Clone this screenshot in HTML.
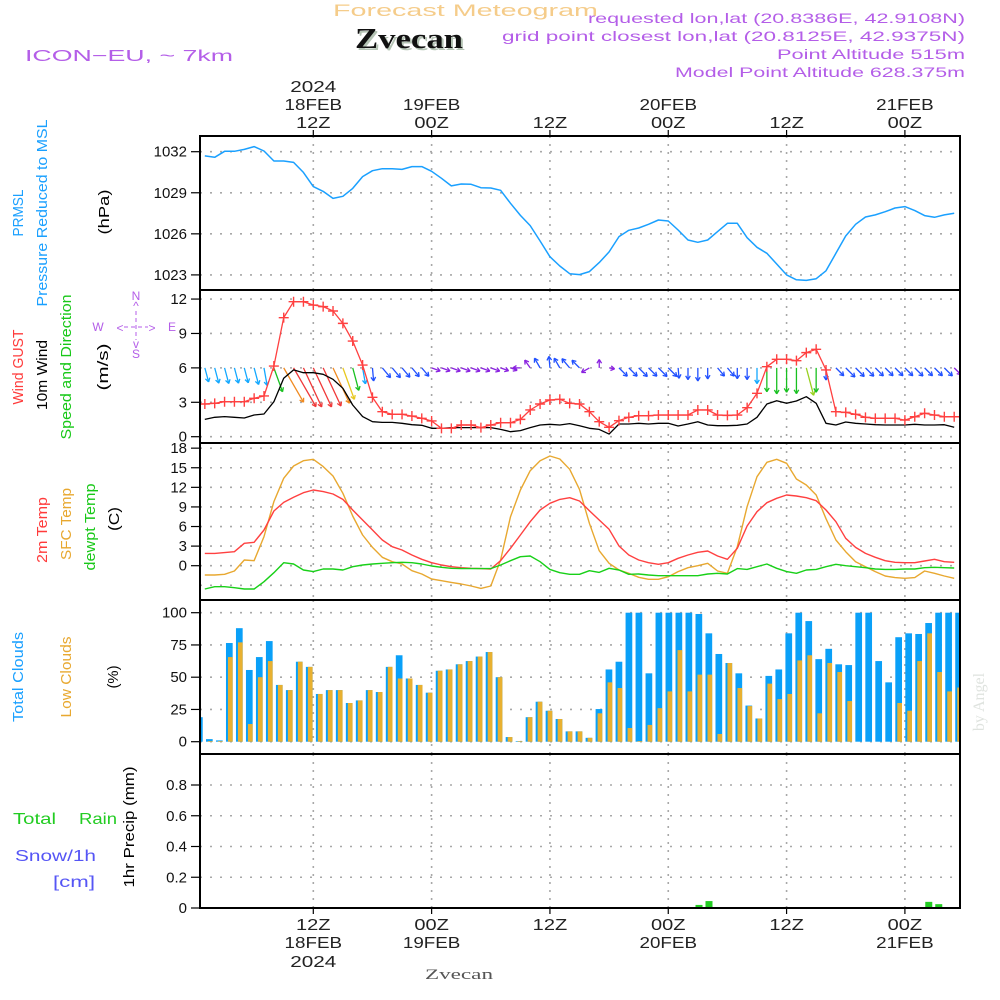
<!DOCTYPE html>
<html><head><meta charset="utf-8"><style>
html,body{margin:0;padding:0;background:#fff;}
svg{display:block;font-family:"Liberation Sans",sans-serif;}
</style></head><body>
<svg id="chart" width="1000" height="1000" viewBox="0 0 1000 1000" xmlns="http://www.w3.org/2000/svg">
<rect x="0" y="0" width="1000" height="1000" fill="#fff"/>
<defs>
<clipPath id="cP"><rect x="200" y="136" width="760" height="154"/></clipPath>
<clipPath id="cW"><rect x="200" y="290" width="760" height="153"/></clipPath>
<clipPath id="cT"><rect x="200" y="443" width="760" height="157"/></clipPath>
<clipPath id="cC"><rect x="200" y="600" width="760" height="154"/></clipPath>
<clipPath id="cR"><rect x="200" y="754" width="760" height="154"/></clipPath>
</defs>
<text x="333" y="16" fill="#f5cc8a" font-size="17" textLength="265" lengthAdjust="spacingAndGlyphs">Forecast Meteogram</text>
<text x="357" y="50" fill="#b5c4b5" font-family="'Liberation Serif',serif" font-weight="bold" font-size="28" textLength="108" lengthAdjust="spacingAndGlyphs">Zvecan</text>
<text x="355" y="48" fill="#111" font-family="'Liberation Serif',serif" font-weight="bold" font-size="28" textLength="108" lengthAdjust="spacingAndGlyphs">Zvecan</text>
<text x="25" y="61" fill="#b45ee8" font-size="16" textLength="208" lengthAdjust="spacingAndGlyphs">ICON−EU, ~ 7km</text>
<g fill="#b45ee8" font-size="14" text-anchor="end">
<text x="965" y="23" textLength="377" lengthAdjust="spacingAndGlyphs">requested lon,lat (20.8386E, 42.9108N)</text>
<text x="965" y="41" textLength="463" lengthAdjust="spacingAndGlyphs">grid point closest lon,lat (20.8125E, 42.9375N)</text>
<text x="965" y="59" textLength="188" lengthAdjust="spacingAndGlyphs">Point Altitude 515m</text>
<text x="965" y="77" textLength="290" lengthAdjust="spacingAndGlyphs">Model Point Altitude 628.375m</text>
</g>
<g font-size="15" text-anchor="middle">
<text transform="translate(23,213) rotate(-90)" fill="#1aa0ff" textLength="47" lengthAdjust="spacingAndGlyphs">PRMSL</text>
<text transform="translate(47,213) rotate(-90)" fill="#1aa0ff" textLength="187" lengthAdjust="spacingAndGlyphs">Pressure Reduced to MSL</text>
<text transform="translate(109,212) rotate(-90)" fill="#000" textLength="45" lengthAdjust="spacingAndGlyphs">(hPa)</text>
<text transform="translate(23,367) rotate(-90)" fill="#ff3b3b" textLength="75" lengthAdjust="spacingAndGlyphs">Wind GUST</text>
<text transform="translate(47,375) rotate(-90)" fill="#000" textLength="70" lengthAdjust="spacingAndGlyphs">10m Wind</text>
<text transform="translate(71,367) rotate(-90)" fill="#18c818" textLength="145" lengthAdjust="spacingAndGlyphs">Speed and Direction</text>
<text transform="translate(108,367) rotate(-90)" fill="#000" textLength="47" lengthAdjust="spacingAndGlyphs">(m/s)</text>
<text transform="translate(47,530) rotate(-90)" fill="#ff3b3b" textLength="66" lengthAdjust="spacingAndGlyphs">2m Temp</text>
<text transform="translate(71,524) rotate(-90)" fill="#e8a830" textLength="72" lengthAdjust="spacingAndGlyphs">SFC Temp</text>
<text transform="translate(95,527) rotate(-90)" fill="#18c818" textLength="87" lengthAdjust="spacingAndGlyphs">dewpt Temp</text>
<text transform="translate(119,519) rotate(-90)" fill="#000" textLength="24" lengthAdjust="spacingAndGlyphs">(C)</text>
<text transform="translate(23,677) rotate(-90)" fill="#1aa0ff" textLength="90" lengthAdjust="spacingAndGlyphs">Total Clouds</text>
<text transform="translate(71,677) rotate(-90)" fill="#e8a830" textLength="81" lengthAdjust="spacingAndGlyphs">Low Clouds</text>
<text transform="translate(118,677) rotate(-90)" fill="#000" textLength="23" lengthAdjust="spacingAndGlyphs">(%)</text>
<text transform="translate(134,827) rotate(-90)" fill="#000" textLength="121" lengthAdjust="spacingAndGlyphs">1hr Precip (mm)</text>
</g>
<g font-size="16">
<text x="13" y="824" fill="#22cc22" textLength="43" lengthAdjust="spacingAndGlyphs">Total</text>
<text x="79" y="824" fill="#22cc22" textLength="38" lengthAdjust="spacingAndGlyphs">Rain</text>
<text x="15" y="861" fill="#5555f5" textLength="81" lengthAdjust="spacingAndGlyphs">Snow/1h</text>
<text x="53" y="887" fill="#5555f5" textLength="42" lengthAdjust="spacingAndGlyphs">[cm]</text>
</g>
<g fill="#b45ee8" stroke="none" font-size="12" text-anchor="middle">
<text x="136" y="300">N</text>
<text x="136" y="310">^</text>
<text x="98" y="331">W</text>
<text x="120" y="332">&lt;</text>
<text x="152" y="332">&gt;</text>
<text x="172" y="331">E</text>
<text x="136" y="348">v</text>
<text x="136" y="358">S</text>
<line x1="136" y1="311" x2="136" y2="340" stroke="#b45ee8" stroke-dasharray="4 3"/>
<line x1="124" y1="327" x2="148" y2="327" stroke="#b45ee8" stroke-dasharray="4 3"/>
</g>
<text transform="translate(984,702) rotate(-90)" fill="#dfe3df" font-family="'Liberation Serif',serif" font-size="16" text-anchor="middle">by Angel</text>
<text x="425" y="979" fill="#555" font-family="'Liberation Serif',serif" font-size="15" textLength="68" lengthAdjust="spacingAndGlyphs">Zvecan</text>
<g id="grid"></g>
<g id="marks"></g>
<g id="frames"></g>
<g id="labels" font-size="15" fill="#111"></g>
</svg>
<script>
const pressure = [1031.69,1031.59,1032.03,1032.03,1032.17,1032.37,1032.05,1031.32,1031.32,1031.22,1030.49,1029.45,1029.1,1028.59,1028.74,1029.32,1030.18,1030.61,1030.76,1030.76,1030.71,1030.91,1030.91,1030.57,1030.06,1029.5,1029.64,1029.62,1029.37,1029.35,1029.18,1028.23,1027.35,1026.6,1025.48,1024.33,1023.65,1023.09,1023.02,1023.24,1023.9,1024.68,1025.8,1026.26,1026.43,1026.7,1027.01,1026.94,1026.28,1025.55,1025.38,1025.55,1026.16,1026.77,1026.77,1025.72,1025.02,1024.58,1023.8,1023.0,1022.64,1022.6,1022.72,1023.3,1024.58,1025.84,1026.7,1027.23,1027.38,1027.62,1027.89,1027.99,1027.7,1027.33,1027.21,1027.38,1027.5];
const gust = [2.85,2.91,3.05,3.05,3.05,3.35,3.55,6.16,10.38,11.77,11.77,11.48,11.34,10.96,9.88,8.34,6.25,3.43,2.18,1.95,1.95,1.8,1.6,1.37,0.73,0.73,1.02,1.02,0.79,1.02,1.22,1.22,1.51,2.33,2.85,3.2,3.26,2.91,2.85,2.18,1.31,0.82,1.4,1.69,1.83,1.83,1.89,1.89,1.89,1.89,2.33,2.33,1.89,1.86,1.89,2.53,3.78,6.1,6.75,6.75,6.63,7.33,7.62,5.82,2.18,2.12,1.95,1.69,1.6,1.6,1.6,1.45,1.74,2.04,1.89,1.74,1.74];
const windSpeed = [1.51,1.69,1.75,1.69,1.63,1.89,1.98,3.05,5.09,5.82,5.58,5.58,5.44,5.0,4.22,2.76,1.75,1.31,1.25,1.25,1.17,1.05,0.99,0.73,0.73,0.79,0.79,0.79,0.79,0.79,0.64,0.44,0.53,0.79,1.02,1.08,1.02,1.14,0.96,0.73,0.64,0.23,1.11,1.11,1.17,1.11,1.17,1.17,0.93,1.11,1.31,1.02,0.96,0.96,0.99,1.11,1.69,2.85,3.14,2.91,3.11,3.49,2.91,1.17,1.02,1.28,1.17,1.11,1.05,1.02,1.02,1.02,1.08,1.02,1.02,1.05,0.82];
const windDir = [345,345,345,345,345,345,350,340,330,330,335,335,335,335,340,345,350,355,320,320,320,320,320,290,290,290,290,290,290,290,290,290,90,145,150,175,150,140,135,60,180,280,315,315,315,315,315,315,355,0,0,0,320,320,0,0,0,0,0,0,0,345,0,0,315,315,315,315,315,315,315,315,315,315,315,315,315];
const t2m = [1.89,1.89,2.0,2.15,3.43,3.58,5.47,8.38,9.7,10.47,11.18,11.59,11.34,10.98,10.16,8.53,7.0,5.47,3.94,2.91,2.4,1.64,0.98,0.46,0.11,-0.15,-0.3,-0.4,-0.45,-0.5,0.77,2.66,4.7,6.74,8.53,9.55,10.16,10.42,9.91,8.43,7.0,5.57,3.02,1.64,0.87,0.46,0.21,0.46,1.13,1.64,2.05,2.25,1.49,0.98,2.66,6.08,8.27,9.65,10.32,10.83,10.67,10.42,9.96,8.53,6.74,4.19,2.81,1.89,1.28,0.77,0.52,0.46,0.46,0.72,0.98,0.62,0.52];
const sfcTemp = [-1.42,-1.42,-1.32,-0.81,0.87,0.77,4.45,9.81,13.38,15.27,16.08,16.29,15.17,13.74,11.08,7.61,4.7,2.81,1.28,0.62,0.26,-0.76,-1.27,-2.04,-2.29,-2.55,-2.8,-3.11,-3.47,-3.11,0.87,7.51,11.59,14.55,16.08,16.8,16.34,14.76,11.69,6.49,2.3,0.36,-0.66,-1.17,-1.78,-2.09,-2.09,-1.68,-0.91,-0.3,0.0,0.36,-0.81,-1.17,2.91,9.04,13.63,15.83,16.29,15.68,13.28,12.36,10.83,7.2,3.94,2.15,0.62,-0.15,-0.91,-1.58,-1.83,-1.93,-1.83,-0.81,-1.17,-1.58,-1.93];
const dewpt = [-3.57,-3.21,-3.21,-3.37,-3.57,-3.57,-2.45,-1.07,0.46,0.26,-0.66,-0.91,-0.5,-0.5,-0.66,-0.15,0.11,0.26,0.36,0.46,0.52,0.46,0.26,-0.05,-0.25,-0.4,-0.45,-0.45,-0.45,-0.45,0.11,0.77,1.38,1.49,0.62,-0.56,-1.07,-1.32,-1.32,-0.76,-1.02,-0.4,-0.66,-1.32,-1.27,-1.42,-1.53,-1.53,-1.53,-1.53,-1.53,-1.27,-1.17,-1.27,-0.45,-0.56,-0.15,0.26,-0.4,-0.91,-1.17,-0.66,-0.56,-0.15,0.21,0.0,-0.15,-0.3,-0.5,-0.56,-0.56,-0.5,-0.5,-0.3,-0.25,-0.3,-0.35];
const totalClouds = [19,2,1,76.5,88,55.6,65.6,78,44,40,62,58,37,40,40,30,32,40,38.5,58,67,49,44,38,55,56,60,62.5,66,69.5,50,3.6,0.5,19,31,24,17.6,8,8,3,25.3,56,62,100,100,53,100,100,100,100,99,84,68,61,53,28,18,51,56,84,100,93.5,64,72,60,59.4,100,100,62.5,46,81,84,83.5,92,100,100,100];
const lowClouds = [0,0.5,0.5,65.6,77,13.7,50,62.5,44,40,62,58,37,40,40,30,32,40,38.5,58,49,49,44,38,55,56,60,62.5,66,69.5,50,3.6,0.5,19,31,24,17.6,8,8,3,22,46,41.6,10.6,0.5,13,26,39,71,39,52,52,6,61,41.6,27.6,18,45,33,37,63,67,22,61,54,31.5,0,0,0,0,30,24,62.5,84,54,39,42];
const precip = [0,0,0,0,0,0,0,0,0,0,0,0,0,0,0,0,0,0,0,0,0,0,0,0,0,0,0,0,0,0,0,0,0,0,0,0,0,0,0,0,0,0,0,0,0,0,0,0,0,0,0.02,0.045,0,0,0,0,0,0,0,0,0,0,0,0,0,0,0,0,0,0,0,0,0,0.04,0.025,0,0];
const timeTicks = [12,24,36,48,60,72];
const topLabels = [["2024","18FEB","12Z"],["","19FEB","00Z"],["","","12Z"],["","20FEB","00Z"],["","","12Z"],["","21FEB","00Z"]];
const bottomLabels = [["12Z","18FEB","2024"],["00Z","19FEB",""],["12Z","",""],["00Z","20FEB",""],["12Z","",""],["00Z","21FEB",""]];
const pTicks = [1032,1029,1026,1023];
const wTicks = [12,9,6,3,0];
const tTicks = [18,15,12,9,6,3,0];
const tGrid = [18,15,12,9,6,3,0,-3];
const cTicks = [100,75,50,25,0];
const rTicks = [0.8,0.6,0.4,0.2,0];

const NS='http://www.w3.org/2000/svg';
function xt(t){return 313.3+(t-12)*9.86;}
function xLine(k){return xt(k+1);}
function xBar(k){return 199.5+k*9.99;}
function yP(p){return 151.7-(p-1032)*13.69;}
function yW(v){return 436.7-v*11.47;}
function yT(v){return 565.7-v*6.53;}
function yC(v){return 741.7-v*1.29;}
function yR(v){return 908-v*153.75;}
const LEFT=200,RIGHT=960;
function mk(tag,attrs,parent){const e=document.createElementNS(NS,tag);for(const k in attrs)e.setAttribute(k,attrs[k]);parent.appendChild(e);return e;}
const grid=document.getElementById('grid'),marks=document.getElementById('marks'),frames=document.getElementById('frames'),labels=document.getElementById('labels');

const panels=[[136,290,pTicks,yP],[290,443,wTicks,yW],[443,600,tGrid,yT],[600,754,cTicks,yC],[754,908,rTicks,yR]];
panels.forEach(function(pn){
  pn[2].forEach(function(v){
    const g=mk('line',{x1:LEFT,x2:RIGHT,y1:pn[3](v),y2:pn[3](v),stroke:'#a8a8a8','stroke-width':1.6,'stroke-dasharray':'2 8'},grid);
    
    
  });
  timeTicks.forEach(function(t){
    const g=mk('line',{x1:xt(t),x2:xt(t),y1:pn[0],y2:pn[1],stroke:'#a8a8a8','stroke-width':1.6,'stroke-dasharray':'2 6'},grid);
    
    
  });
});

function polyline(arr,xf,yf,color,clip,name,w){
  const pts=arr.map(function(v,k){return xf(k).toFixed(1)+','+yf(v).toFixed(1);}).join(' ');
  const l=mk('polyline',{points:pts,fill:'none',stroke:color,'stroke-width':w||1.4,'clip-path':'url(#'+clip+')','stroke-linejoin':'round'},marks);
  
  
  return l;
}

polyline(pressure,xLine,yP,'#1aa0ff','cP','pressure-line',1.5);

totalClouds.forEach(function(v,k){
  const x=xBar(k);
  const b=mk('rect',{x:x-3.5,y:yC(v),width:6.7,height:Math.max(0.5,yC(0)-yC(v)),fill:'#0aa0f8','clip-path':'url(#cC)'},marks);
  
  
});
lowClouds.forEach(function(v,k){
  const x=xBar(k);
  const b=mk('rect',{x:x-1.5,y:yC(v),width:4.7,height:Math.max(0,yC(0)-yC(v)),fill:'#e8b030','clip-path':'url(#cC)'},marks);
  
  
});

precip.forEach(function(v,k){
  if(v<=0)return;
  const x=xBar(k);
  const b=mk('rect',{x:x-3.5,y:yR(v),width:7,height:yR(0)-yR(v),fill:'#22cc22','clip-path':'url(#cR)'},marks);
  
  
});

polyline(sfcTemp,xLine,yT,'#e8a830','cT','sfc-temp-line',1.4);
polyline(t2m,xLine,yT,'#ff4040','cT','t2m-line',1.4);
polyline(dewpt,xLine,yT,'#18d018','cT','dewpt-line',1.4);

function windColor(v){
  if(v<0.85)return '#8a22e0';
  if(v<1.4)return '#2050ff';
  if(v<2.0)return '#12a8ff';
  if(v<2.6)return '#10c8a0';
  if(v<3.3)return '#18c020';
  if(v<4.0)return '#98d020';
  if(v<4.6)return '#e8c820';
  if(v<5.3)return '#f08a20';
  return '#f03838';
}
windDir.forEach(function(d,k){
  const v=windSpeed[k];
  const L=4+7*v;
  const b=(d+180)*Math.PI/180;
  const x0=xLine(k),y0=yW(6);
  const dx=Math.sin(b),dy=-Math.cos(b);
  const x1=x0+L*dx,y1=y0+L*dy;
  const c=windColor(v);
  const g=mk('g',{stroke:c,'stroke-width':1.3,fill:'none','clip-path':'url(#cW)'},marks);
  
  
  mk('line',{x1:x0,y1:y0,x2:x1,y2:y1},g);
  const ang=Math.atan2(dy,dx);
  [2.6,-2.6].forEach(function(o){
    mk('line',{x1:x1,y1:y1,x2:x1+4.5*Math.cos(ang+o),y2:y1+4.5*Math.sin(ang+o)},g);
  });
});
polyline(windSpeed,xLine,yW,'#000','cW','wind-speed-line',1.3);
polyline(gust,xLine,yW,'#ff4040','cW','gust-line',1.3);
gust.forEach(function(v,k){
  const x=xLine(k),y=yW(v);
  const m=mk('path',{d:'M'+(x-5)+','+y+'H'+(x+5)+'M'+x+','+(y-5)+'V'+(y+5),stroke:'#ff4040','stroke-width':1.4,'clip-path':'url(#cW)'},marks);
  
  
});

panels.forEach(function(pn){
  const r=mk('rect',{x:LEFT,y:pn[0],width:RIGHT-LEFT,height:pn[1]-pn[0],fill:'none',stroke:'#000','stroke-width':2},frames);
  
  
});
timeTicks.forEach(function(t){
  mk('line',{x1:xt(t),x2:xt(t),y1:130,y2:136,stroke:'#000','stroke-width':1.2},frames);
  mk('line',{x1:xt(t),x2:xt(t),y1:908,y2:914,stroke:'#000','stroke-width':1.2},frames);
});

function yLabels(ticks,yf,fmt,name){
  ticks.forEach(function(v){
    const y=yf(v);
    mk('line',{x1:191,x2:200,y1:y,y2:y,stroke:'#000','stroke-width':1.2},frames);
    const tx=mk('text',{x:187,y:y+5,'text-anchor':'end'},labels);
    tx.textContent=fmt(v);
    
    
  });
}
yLabels(pTicks,yP,function(v){return String(v);},'pressure-tick-label');
yLabels(wTicks,yW,function(v){return String(v);},'wind-tick-label');
yLabels(tTicks,yT,function(v){return String(v);},'temp-tick-label');
yLabels(cTicks,yC,function(v){return String(v);},'cloud-tick-label');
yLabels(rTicks,yR,function(v){return v===0?'0':v.toFixed(1);},'precip-tick-label');

function timeLabel(txt,x,y){
  const tx=mk('text',{x:x,y:y,'text-anchor':'middle','font-size':16,fill:'#222',textLength:txt.length*11.5,lengthAdjust:'spacingAndGlyphs'},labels);
  tx.textContent=txt;
  
  
}
timeTicks.forEach(function(t,i){
  const ys=[92,110,128];
  topLabels[i].forEach(function(s,j){if(s)timeLabel(s,xt(t),ys[j]);});
  const yb=[930,948,967];
  bottomLabels[i].forEach(function(s,j){if(s)timeLabel(s,xt(t),yb[j]);});
});
</script>
</body></html>
